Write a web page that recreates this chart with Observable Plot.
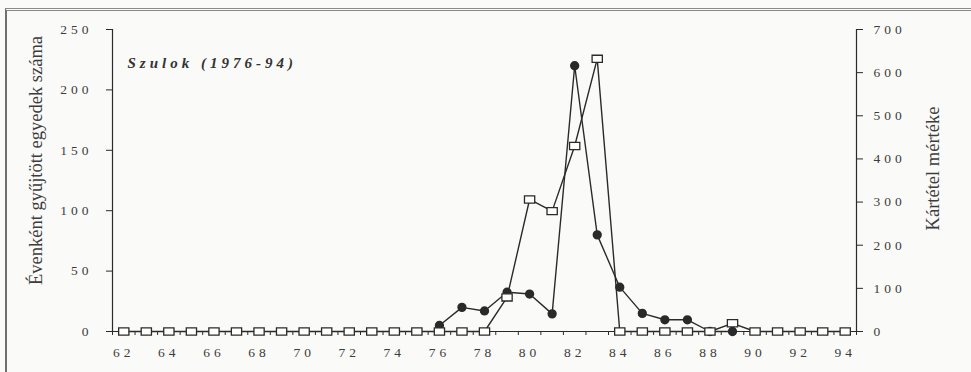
<!DOCTYPE html>
<html><head><meta charset="utf-8">
<script src="https://cdn.jsdelivr.net/npm/d3@7"></script>
<script src="https://cdn.jsdelivr.net/npm/@observablehq/plot@0.6"></script>
<style>
body{margin:0;background:#fafaf8;}
#wrap{position:relative;width:971px;height:372px;overflow:hidden}
#frame{position:absolute;left:5px;top:8px;width:990px;height:400px;border-top:3px double #8a8a8a;border-left:2px solid #707070;pointer-events:none}
svg text{font-family:"Liberation Serif","Times New Roman",serif;}
g[aria-label$="tick label"] text{letter-spacing:4px}
.spaced{letter-spacing:4px}
</style></head><body><div id="wrap"><div id="frame"></div></div>
<script>
const years = [62,63,64,65,66,67,68,69,70,71,72,73,74,75,76,77,78,79,80,81,82,83,84,85,86,87,88,89,90,91,92,93,94];
const xTickLabels = [62,64,66,68,70,72,74,76,78,80,82,84,86,88,90,92,94];
const leftTicks = [0,50,100,150,200,250];
const rightTicks = [0,100,200,300,400,500,600,700];
// Kártétel mértéke (right axis), open squares
const damage = [0,0,0,0,0,0,0,0,0,0,0,0,0,0,0,0,0,79,306,279,430,632,0,0,0,0,0,19,0,0,0,0,0];
// Évenként gyűjtött egyedek száma (left axis), filled circles
const collectedYears = [76,77,78,79,80,81,82,83,84,85,86,87,88,89];
const collected = [5,20,17,32.5,31,14.6,220,80,36.7,15,9.7,9.7,0,0];
const title = "Szulok (1976-94)";
const leftTitle = "Évenként gyűjtött egyedek száma";
const rightTitle = "Kártétel mértéke";

const leftMax = 250, rightMax = 700, k = leftMax / rightMax;
const sq = years.map((y, i) => ({year: y, v: damage[i] * k}));
const circ = collectedYears.map((y, i) => ({year: y, v: collected[i]}));
const boundaries = years.map(y => y - 0.5).concat([years[years.length - 1] + 0.5]);

const rectSym = {draw(ctx, size) {
  const r = Math.sqrt(size / Math.PI);
  const w = r * 1.25, h = r * 0.875;
  ctx.moveTo(-w, -h); ctx.lineTo(w, -h); ctx.lineTo(w, h); ctx.lineTo(-w, h); ctx.closePath();
}};

const ink = "#2a2a2a";
const chart = Plot.plot({
  width: 971, height: 372,
  marginLeft: 112, marginRight: 115, marginTop: 29, marginBottom: 41,
  style: {background: "transparent", color: "#3c3c3c", fontSize: "13px"},
  x: {domain: [61.5, 94.5], label: null},
  y: {domain: [0, leftMax], label: null},
  marks: [
    Plot.ruleY([0], {stroke: ink, strokeWidth: 1.2}),
    Plot.ruleX([boundaries[0], boundaries[boundaries.length - 1]], {stroke: ink, strokeWidth: 1.2}),
    Plot.axisX(boundaries, {tickSize: 4, tickFormat: () => "", stroke: ink}),
    Plot.axisX(xTickLabels, {tickSize: 0, tickPadding: 16, fontSize: 13.5}),
    Plot.axisY(leftTicks, {tickSize: 6, tickPadding: 14, fontSize: 13.5, stroke: ink}),
    Plot.axisY(rightTicks.map(v => v * k), {anchor: "right", tickSize: 6, tickPadding: 11, fontSize: 13.5, stroke: ink, tickFormat: d => String(Math.round(d / k))}),
    Plot.line(sq, {x: "year", y: "v", stroke: ink, strokeWidth: 1.4}),
    Plot.line(circ, {x: "year", y: "v", stroke: ink, strokeWidth: 1.4}),
    Plot.dot(circ, {x: "year", y: "v", r: 3.9, fill: ink, stroke: ink}),
    Plot.dot(sq, {x: "year", y: "v", r: 4.1, symbol: rectSym, fill: "white", stroke: ink, strokeWidth: 1.3}),
    Plot.text([title], {frameAnchor: "top-left", dx: 15, dy: 28, textAnchor: "start", fontWeight: "bold", fontStyle: "italic", fontSize: 15, fill: "#333"}),
    Plot.text([leftTitle], {frameAnchor: "left", dx: -76, dy: -20, rotate: -90, textAnchor: "middle", fontSize: 18.5, fill: "#3c3c3c"}),
    Plot.text([rightTitle], {frameAnchor: "right", dx: 77, dy: -12, rotate: -90, textAnchor: "middle", fontSize: 18.5, fill: "#3c3c3c"})
  ]
});
d3.select(chart).selectAll("text").filter(function() { return this.textContent === title; }).classed("spaced", true);
document.getElementById("wrap").prepend(chart);
chart.style.position = "absolute"; chart.style.left = "0"; chart.style.top = "0";
</script></body></html>
